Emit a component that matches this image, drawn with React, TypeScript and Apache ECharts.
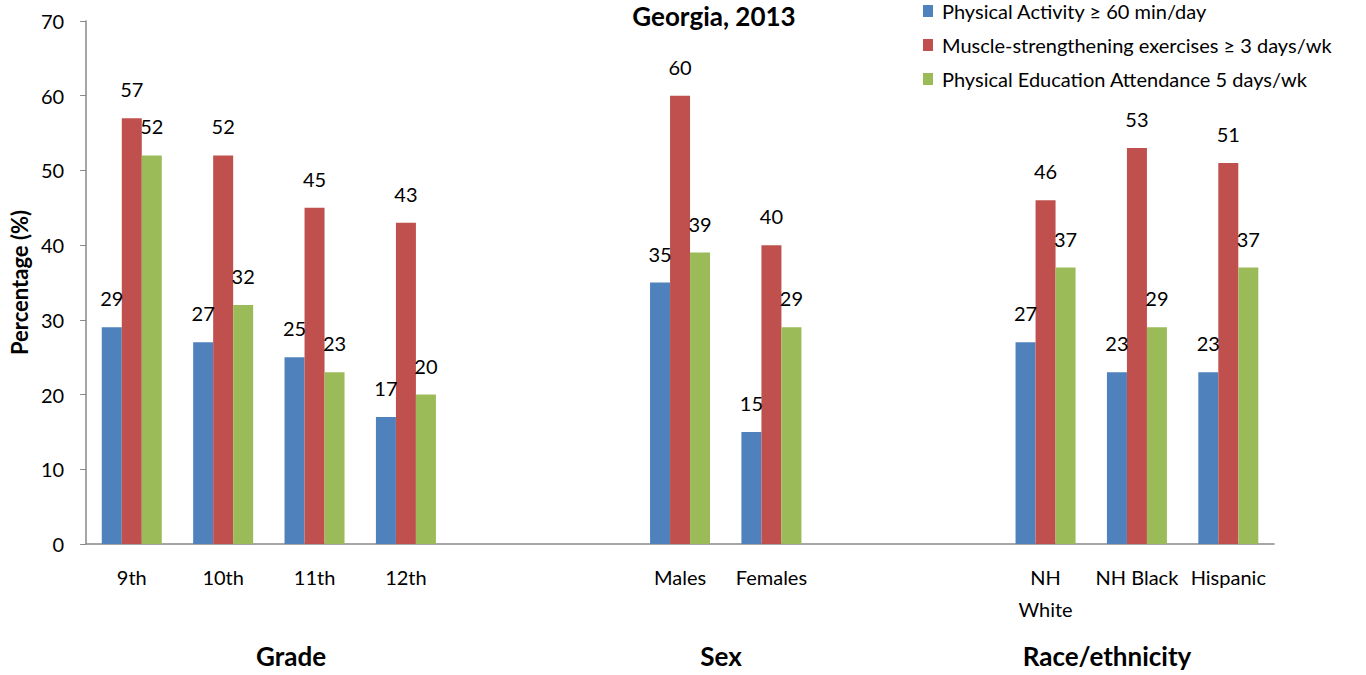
import React, { useEffect, useRef } from "react";
import * as echarts from "echarts";

const categories = ["9th", "10th", "11th", "12th", "", "", "Males", "Females", "", "", "NH\nWhite", "NH Black", "Hispanic"];
const physicalActivity = [29, 27, 25, 17, null, null, 35, 15, null, null, 27, 23, 23];
const muscleStrengthening = [57, 52, 45, 43, null, null, 60, 40, null, null, 46, 53, 51];
const physicalEducation = [52, 32, 23, 20, null, null, 39, 29, null, null, 37, 29, 37];
const seriesNames = [
  "Physical Activity \u2265 60 min/day",
  "Muscle-strengthening exercises \u2265 3 days/wk",
  "Physical Education Attendance 5 days/wk",
];
const colors = ["#4F81BD", "#C0504D", "#9BBB59"];
const groupLabels = [
  { text: "Grade", x: 291 },
  { text: "Sex", x: 721 },
  { text: "Race/ethnicity", x: 1107 },
];

const FONT = "Lato, 'Open Sans', sans-serif";

export default function App() {
  const ref = useRef<HTMLDivElement>(null);
  useEffect(() => {
    if (!ref.current) return;
    const chart = echarts.init(ref.current, null, { renderer: "svg" });
    const mkSeries = (name: string, data: (number | null)[], color: string) => ({
      name,
      type: "bar",
      data,
      barWidth: 20,
      barGap: "0%",
      itemStyle: { color },
      label: {
        show: true,
        position: "top",
        distance: 19,
        color: "#000",
        fontSize: 20,
        fontFamily: FONT,
      },
    });
    chart.setOption({
      animation: false,
      backgroundColor: "#fff",
      textStyle: { fontFamily: FONT },
      grid: { left: 86, right: 92, top: 21, bottom: 131, containLabel: false },
      legend: {
        orient: "vertical",
        left: 918,
        top: -4,
        itemWidth: 10,
        itemHeight: 12,
        itemGap: 14,
        icon: "rect",
        textStyle: { fontSize: 20, color: "#000", fontFamily: FONT, padding: [0, 0, 0, 4] },
        data: seriesNames,
      },
      xAxis: {
        type: "category",
        data: categories,
        axisLine: { lineStyle: { color: "#888", width: 1.5 } },
        axisTick: { show: false },
        axisLabel: {
          interval: 0,
          color: "#000",
          fontSize: 20,
          fontFamily: FONT,
          margin: 17,
          lineHeight: 32,
        },
      },
      yAxis: {
        type: "value",
        min: 0,
        max: 70,
        interval: 10,
        name: "Percentage (%)",
        nameLocation: "middle",
        nameGap: 52,
        nameTextStyle: { fontSize: 22, fontWeight: "bold", color: "#000", fontFamily: FONT },
        splitLine: { show: false },
        axisLine: { show: true, lineStyle: { color: "#888", width: 1.5 } },
        axisTick: { show: true, length: 6, lineStyle: { color: "#888" } },
        axisLabel: { color: "#000", fontSize: 20, fontFamily: FONT, margin: 22 },
      },
      graphic: [
        {
          type: "text",
          x: 714,
          y: 3,
          style: {
            text: "Georgia, 2013",
            fontSize: 26,
            fontWeight: "bold",
            fill: "#000",
            fontFamily: FONT,
            align: "center",
            verticalAlign: "top",
          },
        },
        ...groupLabels.map((g) => ({
          type: "text",
          x: g.x,
          y: 656,
          style: {
            text: g.text,
            fontSize: 26,
            fontWeight: "bold",
            fill: "#000",
            fontFamily: FONT,
            align: "center",
            verticalAlign: "middle",
          },
        })),
      ],
      series: [
        mkSeries(seriesNames[0], physicalActivity, colors[0]),
        mkSeries(seriesNames[1], muscleStrengthening, colors[1]),
        mkSeries(seriesNames[2], physicalEducation, colors[2]),
      ],
    });
    return () => chart.dispose();
  }, []);
  return <div ref={ref} style={{ position: "absolute", left: 0, top: 0, width: 1366, height: 675 }} />;
}
